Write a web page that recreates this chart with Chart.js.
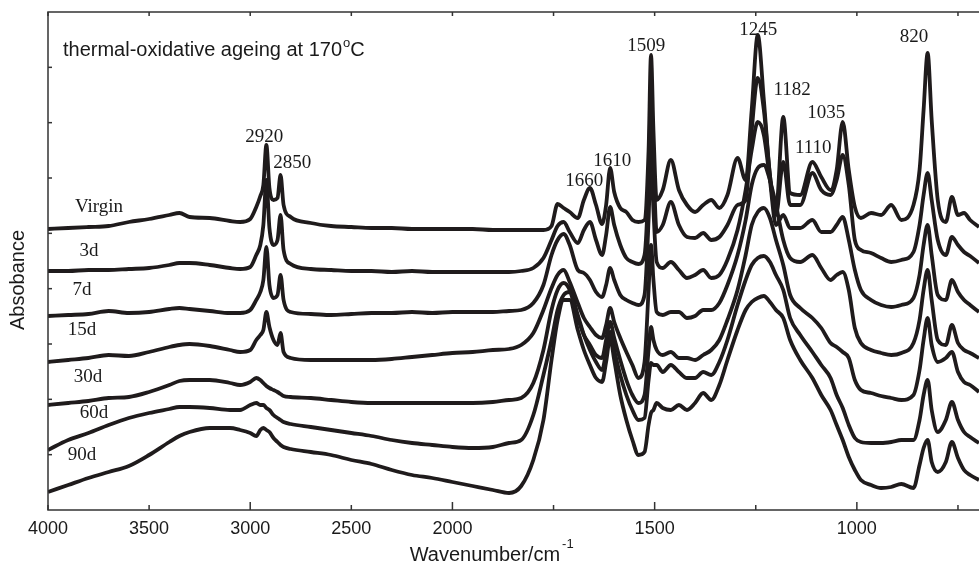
<!DOCTYPE html>
<html>
<head>
<meta charset="utf-8">
<script src="https://cdn.jsdelivr.net/npm/chart.js@4.4.1/dist/chart.umd.min.js"></script>
<style>
html,body{margin:0;padding:0;background:#fff;}
#wrap{width:979px;height:568px;}
</style>
</head>
<body>
<div id="wrap"><canvas id="ftir" width="979" height="568"></canvas></div>
<script>
const wavenumbers=[4000,3900,3800,3700,3600,3500,3400,3350,3300,3200,
3100,3050,3000,2970,2950,2935,2920,2905,2885,2865,
2850,2835,2800,2700,2600,2500,2400,2300,2200,2100,
2000,1950,1900,1860,1830,1800,1775,1755,1740,1725,
1710,1690,1675,1660,1645,1630,1620,1610,1600,1585,
1570,1555,1540,1525,1515,1509,1503,1495,1480,1460,
1440,1420,1400,1380,1360,1340,1320,1295,1275,1260,
1245,1230,1215,1200,1182,1165,1140,1110,1088,1065,
1050,1035,1020,1005,990,965,940,915,890,860,
845,835,825,815,800,780,765,750,735,720,
698];

// absorbance (stacked, arbitrary units)
const virgin=[2.81,2.82,2.83,2.84,2.88,2.91,2.95,2.97,2.93,2.92,
2.89,2.88,2.91,3.03,3.14,3.25,3.65,3.22,3.10,3.12,
3.35,3.05,2.93,2.87,2.84,2.83,2.82,2.82,2.81,2.81,
2.81,2.81,2.80,2.80,2.80,2.80,2.80,2.84,3.06,3.02,
2.98,2.92,3.10,3.22,3.05,2.86,3.05,3.42,3.18,3.02,
2.98,2.90,2.88,2.90,3.60,4.55,3.80,3.10,3.20,3.50,
3.20,3.05,2.98,3.05,3.10,3.02,3.15,3.52,3.30,4.00,
4.75,4.10,3.35,3.00,3.93,3.17,3.15,3.48,3.33,3.20,
3.40,3.88,3.40,3.03,2.92,2.97,2.95,3.05,2.90,3.05,
3.40,4.00,4.57,3.90,3.10,2.88,3.13,2.95,2.97,2.90,
2.83];
const day3=[2.39,2.39,2.40,2.40,2.41,2.42,2.45,2.47,2.47,2.45,
2.42,2.41,2.43,2.55,2.65,2.85,3.30,2.82,2.65,2.70,
2.95,2.60,2.46,2.41,2.40,2.39,2.39,2.38,2.39,2.38,
2.38,2.38,2.38,2.38,2.39,2.42,2.52,2.70,2.84,2.88,
2.78,2.67,2.80,2.88,2.70,2.55,2.75,3.03,2.85,2.65,
2.52,2.48,2.46,2.55,3.30,4.18,3.50,2.78,2.85,3.08,
2.85,2.73,2.72,2.77,2.70,2.73,2.85,3.05,3.10,3.80,
4.32,4.00,3.35,2.95,3.48,3.05,3.05,3.37,3.20,3.15,
3.30,3.55,3.25,2.70,2.60,2.57,2.52,2.48,2.50,2.58,
2.85,3.15,3.37,3.10,2.70,2.55,2.73,2.65,2.58,2.54,
2.47];
const day7=[1.94,1.95,1.96,1.99,1.97,1.98,2.01,2.02,2.01,1.99,
1.97,1.97,2.00,2.10,2.18,2.30,2.63,2.25,2.12,2.15,
2.35,2.10,1.98,1.96,1.95,1.96,1.97,1.97,1.98,1.97,
1.98,1.98,1.98,1.99,2.00,2.07,2.25,2.55,2.70,2.76,
2.65,2.40,2.37,2.30,2.18,2.13,2.25,2.42,2.30,2.15,
2.10,2.07,2.05,2.15,2.90,3.60,3.00,2.48,2.42,2.48,
2.40,2.32,2.35,2.40,2.32,2.35,2.50,2.80,3.20,3.60,
3.88,3.75,3.30,2.85,2.95,2.82,2.82,2.90,2.78,2.78,
2.85,2.93,2.70,2.40,2.20,2.10,2.05,2.03,2.05,2.12,
2.35,2.65,2.85,2.55,2.15,2.10,2.30,2.18,2.10,2.05,
1.98];
const day15=[1.48,1.50,1.52,1.55,1.54,1.58,1.63,1.65,1.66,1.64,
1.60,1.58,1.60,1.70,1.75,1.80,1.98,1.83,1.70,1.65,
1.77,1.58,1.52,1.50,1.50,1.50,1.50,1.51,1.53,1.55,
1.57,1.58,1.60,1.61,1.65,1.77,2.00,2.22,2.35,2.40,
2.28,2.07,1.92,1.83,1.75,1.72,1.85,2.02,1.88,1.72,
1.58,1.45,1.32,1.48,2.20,2.65,2.30,1.98,1.95,1.98,
1.98,1.92,1.94,2.00,2.00,2.07,2.25,2.55,2.90,3.25,
3.42,3.45,3.30,3.05,2.70,2.52,2.48,2.55,2.42,2.30,
2.35,2.38,2.20,1.82,1.67,1.60,1.57,1.55,1.57,1.67,
1.90,2.20,2.40,2.10,1.70,1.65,1.85,1.67,1.60,1.57,
1.52];
const day30=[1.05,1.07,1.09,1.12,1.13,1.18,1.25,1.29,1.30,1.30,
1.27,1.25,1.28,1.32,1.30,1.27,1.24,1.22,1.20,1.18,
1.16,1.14,1.13,1.12,1.10,1.08,1.07,1.07,1.07,1.07,
1.07,1.07,1.08,1.10,1.12,1.27,1.60,2.00,2.20,2.27,
2.20,1.92,1.75,1.65,1.55,1.52,1.70,1.88,1.72,1.50,
1.30,1.15,1.07,1.15,1.60,1.83,1.70,1.60,1.55,1.58,
1.52,1.52,1.50,1.55,1.60,1.70,1.90,2.20,2.55,2.85,
2.98,3.02,2.92,2.70,2.45,2.15,2.02,1.92,1.82,1.67,
1.63,1.58,1.52,1.30,1.20,1.17,1.14,1.12,1.10,1.15,
1.40,1.70,1.92,1.65,1.48,1.52,1.58,1.38,1.28,1.25,
1.18];
const day60=[0.60,0.70,0.77,0.85,0.92,0.97,1.01,1.03,1.03,1.02,
1.00,1.00,1.05,1.07,1.05,1.05,1.02,1.00,0.95,0.92,
0.90,0.88,0.86,0.83,0.80,0.77,0.74,0.70,0.67,0.65,
0.63,0.62,0.63,0.67,0.70,0.95,1.35,1.70,2.00,2.15,
2.18,1.95,1.75,1.60,1.48,1.40,1.58,1.78,1.60,1.35,
1.15,1.00,0.90,0.92,1.30,1.47,1.45,1.45,1.38,1.45,
1.38,1.32,1.32,1.38,1.35,1.48,1.70,2.05,2.30,2.45,
2.52,2.54,2.48,2.35,2.20,1.92,1.75,1.58,1.45,1.32,
1.15,1.02,0.85,0.72,0.68,0.67,0.67,0.68,0.70,0.70,
0.90,1.15,1.30,1.00,0.78,0.90,1.08,0.90,0.78,0.73,
0.67];
const day90=[0.18,0.25,0.32,0.38,0.44,0.55,0.68,0.74,0.78,0.82,
0.82,0.80,0.77,0.74,0.80,0.82,0.80,0.78,0.72,0.68,
0.65,0.63,0.61,0.58,0.55,0.50,0.46,0.40,0.35,0.32,
0.28,0.24,0.20,0.17,0.24,0.50,0.90,1.50,1.90,2.10,
2.10,1.80,1.60,1.45,1.32,1.28,1.48,1.72,1.50,1.15,
0.90,0.70,0.55,0.58,0.85,0.97,1.00,1.07,1.02,1.00,
1.05,1.00,1.07,1.17,1.10,1.25,1.50,1.80,2.00,2.08,
2.12,2.14,2.08,2.00,1.92,1.70,1.50,1.32,1.15,1.00,
0.85,0.70,0.53,0.40,0.30,0.25,0.22,0.23,0.26,0.22,
0.45,0.62,0.70,0.48,0.38,0.48,0.68,0.52,0.40,0.35,
0.30];

const seriesNames=['Virgin','3d','7d','15d','30d','60d','90d'];
const seriesValues=[virgin,day3,day7,day15,day30,day60,day90];
// where each curve name sits (wavenumber, absorbance)
const nameAt=[[3748,3.03],[3797,2.59],[3832,2.20],[3832,1.80],[3802,1.33],[3772,0.97],[3832,0.55]];

const peakLabels=['2920','2850','1660','1610','1509','1245','1182','1110','1035','820'];
const peakAt=[[2931,3.73],[2792,3.47],[1674,3.29],[1605,3.49],[1521,4.64],[1244,4.80],[1160,4.20],[1108,3.62],[1076,3.97],[859,4.73]];

const xTicks=[4000,3500,3000,2500,2000,1750,1500,1250,1000,750];
const xTickLabels=['4000','3500','3000','2500','2000','','1500','','1000',''];
const majorTicks=[3000,2000,1500,1000];
const yMax=4.98;
const lastWn=698;

// axis is broken at 2000: below 2000 cm-1 the scale is doubled
function toU(wn){return wn>=2000?(4000-wn)/2:1000+(2000-wn);}

const ink='#1f1b1c';

const frame={
  id:'frame',
  afterDraw(chart){
    const {ctx,chartArea:a,scales:{x,y}}=chart;
    ctx.save();
    ctx.strokeStyle='#333';
    ctx.lineWidth=1.5;
    ctx.beginPath();
    ctx.moveTo(a.right,a.top);ctx.lineTo(a.left,a.top);ctx.lineTo(a.left,a.bottom);ctx.lineTo(a.right,a.bottom);
    ctx.stroke();
    xTicks.forEach(wn=>{
      const px=x.getPixelForValue(toU(wn));
      const len=majorTicks.includes(wn)?8:5;
      ctx.beginPath();
      ctx.moveTo(px,a.bottom);ctx.lineTo(px,a.bottom-len);
      ctx.moveTo(px,a.top);ctx.lineTo(px,a.top+4);
      ctx.stroke();
    });
    for(let i=1;i<9;i++){
      const py=y.getPixelForValue(i*yMax/9);
      ctx.beginPath();ctx.moveTo(a.left,py);ctx.lineTo(a.left+4,py);ctx.stroke();
    }

    ctx.fillStyle='#1a1a1a';
    // title
    ctx.font='20px "Liberation Sans", Arial, sans-serif';
    ctx.textBaseline='alphabetic';
    ctx.textAlign='left';
    let tx=a.left+15, ty=a.top+44;
    const t1='thermal-oxidative ageing at 170';
    ctx.fillText(t1,tx,ty);
    tx+=ctx.measureText(t1).width;
    ctx.font='13px "Liberation Sans", Arial, sans-serif';
    ctx.fillText('o',tx+1,ty-9);
    tx+=ctx.measureText('o').width+1;
    ctx.font='20px "Liberation Sans", Arial, sans-serif';
    ctx.fillText('C',tx,ty);

    // axis titles
    ctx.font='20px "Liberation Sans", Arial, sans-serif';
    ctx.textAlign='center';
    ctx.textBaseline='middle';
    ctx.save();
    ctx.translate(18,(a.top+a.bottom)/2+19);
    ctx.rotate(-Math.PI/2);
    ctx.fillText('Absobance',0,0);
    ctx.restore();
    const xt='Wavenumber/cm';
    const w=ctx.measureText(xt).width;
    const cx=x.getPixelForValue(toU(1900));
    ctx.textAlign='left';
    ctx.textBaseline='alphabetic';
    ctx.fillText(xt,cx-w/2-8,561);
    ctx.font='13px "Liberation Sans", Arial, sans-serif';
    ctx.fillText('-1',cx+w/2-6,548);

    // peak and curve labels
    ctx.font='19px "Liberation Serif", "Times New Roman", serif';
    ctx.textAlign='center';
    ctx.textBaseline='middle';
    peakLabels.forEach((s,i)=>{
      ctx.fillText(s,x.getPixelForValue(toU(peakAt[i][0])),y.getPixelForValue(peakAt[i][1]));
    });
    seriesNames.forEach((s,i)=>{
      ctx.fillText(s,x.getPixelForValue(toU(nameAt[i][0])),y.getPixelForValue(nameAt[i][1]));
    });
    ctx.restore();
  }
};

new Chart(document.getElementById('ftir'),{
  type:'line',
  data:{
    datasets:seriesValues.map((vals,i)=>({
      label:seriesNames[i],
      data:vals.map((v,j)=>({x:toU(wavenumbers[j]),y:v})),
      borderColor:ink,
      borderWidth:3.8,
      pointRadius:0,
      cubicInterpolationMode:'monotone',
      fill:false
    }))
  },
  options:{
    responsive:false,
    animation:false,
    layout:{padding:{top:12,right:0,left:0,bottom:0}},
    plugins:{legend:{display:false},tooltip:{enabled:false}},
    scales:{
      x:{
        type:'linear',
        min:0,
        max:toU(lastWn),
        grid:{display:false,drawTicks:false},
        border:{display:false},
        afterBuildTicks:s=>{s.ticks=xTicks.map(wn=>({value:toU(wn)}));},
        afterFit:s=>{s.height=58;},
        ticks:{
          autoSkip:false,
          maxRotation:0,
          padding:8,
          color:'#1a1a1a',
          font:{family:'"Liberation Sans", Arial, sans-serif',size:18},
          callback:(v,i)=>xTickLabels[i]
        }
      },
      y:{
        min:0,
        max:yMax,
        grid:{display:false,drawTicks:false},
        border:{display:false},
        ticks:{display:false},
        afterFit:s=>{s.width=48;}
      }
    }
  },
  plugins:[frame]
});
</script>
</body>
</html>
